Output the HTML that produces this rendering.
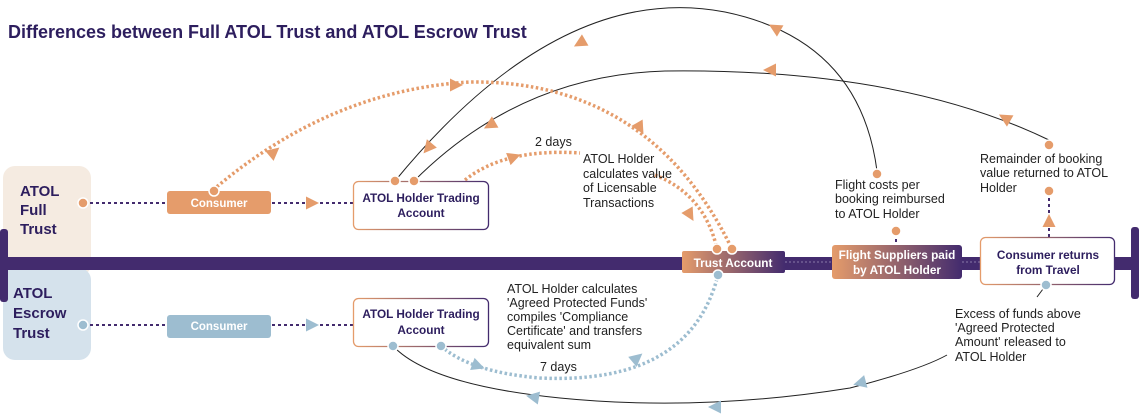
<!DOCTYPE html>
<html><head><meta charset="utf-8"><style>
html,body{margin:0;padding:0;background:#fff}
svg{display:block}
text{font-family:"Liberation Sans",sans-serif}
</style></head><body>
<svg width="1139" height="417" viewBox="0 0 1139 417" xmlns="http://www.w3.org/2000/svg">
<defs>
<linearGradient id="g1" x1="0" x2="1" y1="0" y2="0"><stop offset="0" stop-color="#e59c6b"/><stop offset="1" stop-color="#432b6e"/></linearGradient>
<polygon id="ao" points="-6,-6.5 7,0 -6,6.5" fill="#e59c6b"/>
<polygon id="ab" points="-6,-6.5 7,0 -6,6.5" fill="#9dbdd0"/>
</defs>
<text x="8" y="38" font-size="18" font-weight="bold" fill="#2d1e5e">Differences between Full ATOL Trust and ATOL Escrow Trust</text>

<rect x="3" y="166" width="88" height="110" rx="12" fill="#f5ebe1"/>
<rect x="3" y="268" width="88" height="92" rx="12" fill="#d5e2ec"/>
<g font-size="15" font-weight="bold" fill="#2d1e5e">
<text x="20" y="196">ATOL</text><text x="20" y="215">Full</text><text x="20" y="234">Trust</text>
<text x="13" y="298">ATOL</text><text x="13" y="318">Escrow</text><text x="13" y="338">Trust</text>
</g>

<rect x="0" y="257" width="1136" height="13" fill="#432b6e"/>
<rect x="0" y="229" width="8" height="73" rx="3" fill="#432b6e"/>
<rect x="1131" y="227" width="8" height="72" rx="3" fill="#432b6e"/>
<line x1="785" y1="262" x2="832" y2="262" stroke="#8a7aa8" stroke-width="1" stroke-dasharray="2 2"/>
<line x1="962" y1="262" x2="980" y2="262" stroke="#8a7aa8" stroke-width="1" stroke-dasharray="2 2"/>

<g fill="none" stroke="#222" stroke-width="1">
<path d="M395,181 Q560,-20 725,12 Q860,40 877,171"/>
<path d="M414,181 Q520,75 665,71 Q900,68 1049,140"/>
<path d="M393,346 Q430,385 560,398 Q700,412 850,388 Q920,370 947,355"/>
<path d="M1046,285 L1037,297"/>
</g>

<g fill="none" stroke="#e59c6b" stroke-width="3.5" stroke-dasharray="2.5 2.5">
<path d="M213,190 Q330,90 470,82 Q650,80 732,249"/>
<path d="M465,180 Q505,148 580,153"/>
<path d="M655,175 Q705,195 717,249"/>
</g>
<path d="M441,346 Q470,372 540,378 Q690,385 718,275" fill="none" stroke="#9dbdd0" stroke-width="3.5" stroke-dasharray="2.5 2.5"/>

<g stroke="#432b6e" stroke-width="2" stroke-dasharray="3 3">
<line x1="90" y1="203" x2="167" y2="203"/>
<line x1="272" y1="203" x2="353" y2="203"/>
<line x1="90" y1="325" x2="167" y2="325"/>
<line x1="272" y1="325" x2="353" y2="325"/>
<line x1="896" y1="233" x2="896" y2="244"/>
<line x1="1049" y1="192" x2="1049" y2="237"/>
</g>

<use href="#ao" transform="translate(312,203)"/>
<use href="#ao" transform="translate(1049,221) rotate(-90)"/>
<use href="#ao" transform="translate(775,28) rotate(-150)"/>
<use href="#ao" transform="translate(580,43) rotate(150)"/>
<use href="#ao" transform="translate(428,148) rotate(130)"/>
<use href="#ao" transform="translate(1005,118) rotate(-150)"/>
<use href="#ao" transform="translate(770,70) rotate(180)"/>
<use href="#ao" transform="translate(490,125) rotate(150)"/>
<use href="#ao" transform="translate(274,152) rotate(-40)"/>
<use href="#ao" transform="translate(456,85) rotate(0)"/>
<use href="#ao" transform="translate(640,128) rotate(60)"/>
<use href="#ao" transform="translate(514,157) rotate(-20)"/>
<use href="#ao" transform="translate(690,215) rotate(60)"/>
<use href="#ab" transform="translate(312,325)"/>
<use href="#ab" transform="translate(637,358) rotate(-40)"/>
<use href="#ab" transform="translate(478,366) rotate(20)"/>
<use href="#ab" transform="translate(860,383) rotate(165)"/>
<use href="#ab" transform="translate(715,407) rotate(180)"/>
<use href="#ab" transform="translate(533,397) rotate(-170)"/>

<rect x="167" y="191" width="104" height="23" rx="3" fill="#e59c6b"/>
<text x="219" y="207" font-size="11.5" font-weight="bold" fill="#fff" text-anchor="middle">Consumer</text>
<rect x="167" y="315" width="104" height="23" rx="3" fill="#9dbdd0"/>
<text x="219" y="330" font-size="11.5" font-weight="bold" fill="#fff" text-anchor="middle">Consumer</text>

<rect x="353.5" y="181.5" width="135" height="48" rx="5" fill="#fff" stroke="url(#g1)" stroke-width="1.3"/>
<text x="421" y="202" font-size="11.8" font-weight="bold" fill="#2d1e5e" text-anchor="middle">ATOL Holder Trading</text>
<text x="421" y="217" font-size="11.8" font-weight="bold" fill="#2d1e5e" text-anchor="middle">Account</text>
<rect x="353.5" y="298.5" width="135" height="48" rx="5" fill="#fff" stroke="url(#g1)" stroke-width="1.3"/>
<text x="421" y="318" font-size="11.8" font-weight="bold" fill="#2d1e5e" text-anchor="middle">ATOL Holder Trading</text>
<text x="421" y="334" font-size="11.8" font-weight="bold" fill="#2d1e5e" text-anchor="middle">Account</text>

<rect x="682" y="251" width="103" height="22" rx="2" fill="url(#g1)"/>
<text x="733" y="267" font-size="11.8" font-weight="bold" fill="#fff" text-anchor="middle">Trust Account</text>
<rect x="832" y="245" width="130" height="34" rx="3" fill="url(#g1)"/>
<text x="897" y="259" font-size="11.8" font-weight="bold" fill="#fff" text-anchor="middle">Flight Suppliers paid</text>
<text x="897" y="274" font-size="11.8" font-weight="bold" fill="#fff" text-anchor="middle">by ATOL Holder</text>
<rect x="980.5" y="237.5" width="134" height="47" rx="5" fill="#fff" stroke="url(#g1)" stroke-width="1.3"/>
<text x="1048" y="259" font-size="11.8" font-weight="bold" fill="#2d1e5e" text-anchor="middle">Consumer returns</text>
<text x="1048" y="274" font-size="11.8" font-weight="bold" fill="#2d1e5e" text-anchor="middle">from Travel</text>

<g stroke="#fff" stroke-width="1.5">
<circle cx="83" cy="203" r="5" fill="#e59c6b"/>
<circle cx="83" cy="325" r="5" fill="#9dbdd0"/>
<circle cx="214" cy="191" r="5" fill="#e59c6b"/>
<circle cx="395" cy="181" r="5" fill="#e59c6b"/>
<circle cx="414" cy="181" r="5" fill="#e59c6b"/>
<circle cx="393" cy="346" r="5" fill="#9dbdd0"/>
<circle cx="441" cy="346" r="5" fill="#9dbdd0"/>
<circle cx="717" cy="249" r="5" fill="#e59c6b"/>
<circle cx="732" cy="249" r="5" fill="#e59c6b"/>
<circle cx="718" cy="275" r="5" fill="#9dbdd0"/>
<circle cx="896" cy="231" r="5" fill="#e59c6b"/>
<circle cx="877" cy="174" r="5" fill="#e59c6b"/>
<circle cx="1049" cy="145" r="5" fill="#e59c6b"/>
<circle cx="1049" cy="191" r="5" fill="#e59c6b"/>
<circle cx="1046" cy="285" r="5" fill="#9dbdd0"/>
</g>

<g font-size="12.5" fill="#222">
<text x="535" y="146">2 days</text>
<text x="583" y="163">ATOL Holder</text>
<text x="583" y="178">calculates value</text>
<text x="583" y="192">of Licensable</text>
<text x="583" y="207">Transactions</text>
<text x="835" y="189">Flight costs per</text>
<text x="835" y="203">booking reimbursed</text>
<text x="835" y="218">to ATOL Holder</text>
<text x="980" y="163">Remainder of booking</text>
<text x="980" y="177">value returned to ATOL</text>
<text x="980" y="192">Holder</text>
<text x="955" y="318">Excess of funds above</text>
<text x="955" y="332">'Agreed Protected</text>
<text x="955" y="346">Amount' released to</text>
<text x="955" y="361">ATOL Holder</text>
<text x="507" y="293">ATOL Holder calculates</text>
<text x="507" y="307">'Agreed Protected Funds'</text>
<text x="507" y="321">compiles 'Compliance</text>
<text x="507" y="335">Certificate' and transfers</text>
<text x="507" y="349">equivalent sum</text>
<text x="540" y="371">7 days</text>
</g>
</svg>
</body></html>
